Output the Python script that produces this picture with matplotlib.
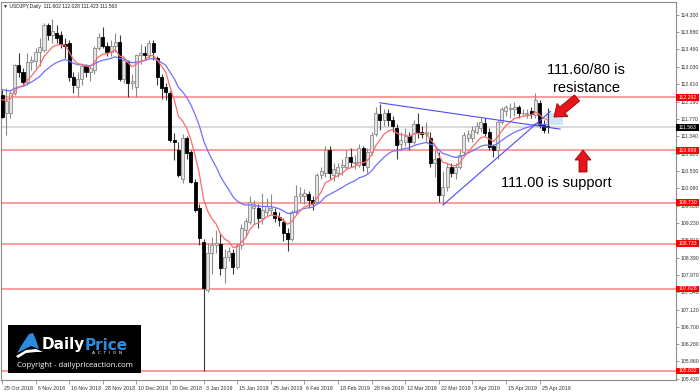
import matplotlib
matplotlib.use('Agg')
import matplotlib.pyplot as plt
from matplotlib.patches import Rectangle, Polygon
from matplotlib.transforms import ScaledTranslation
import numpy as np

# ---------------- data ----------------
opens = [112.35, 111.90, 111.90, 112.40, 113.08, 112.91, 112.67, 113.15, 113.18, 113.40,
         113.45, 114.06, 113.80, 113.85, 113.80, 113.60, 113.62, 112.79, 112.55, 112.75,
         113.05, 112.90, 112.95, 113.50, 113.76, 113.55, 113.40, 113.55, 113.65, 112.75,
         113.15, 112.65, 112.55, 113.33, 113.38, 113.33, 113.62, 113.25, 112.79, 112.55,
         112.40, 111.25, 111.00, 110.30, 111.30, 110.96, 110.23, 109.60, 108.78, 107.60,
         108.50, 108.70, 108.72, 108.14, 108.40, 108.50, 108.15, 108.70, 109.05, 109.25,
         109.60, 109.60, 109.35, 109.50, 109.55, 109.50, 109.38, 109.25, 109.00, 108.85,
         109.50, 109.88, 109.90, 109.95, 109.80, 109.75, 110.40, 110.45, 111.00, 110.40,
         110.45, 110.60, 110.60, 110.85, 110.70, 110.65, 111.05, 110.60, 110.95, 111.40,
         111.88, 111.75, 111.90, 111.75, 111.55, 111.15, 111.20, 111.35, 111.20, 111.65,
         111.45, 111.40, 111.30, 110.70, 110.82, 109.92, 110.10, 110.60, 110.45, 110.60,
         110.95, 111.30, 111.30, 111.45, 111.55, 111.66, 111.45, 111.10, 111.02, 111.70,
         111.95, 112.00, 112.00, 112.05, 111.90, 111.88, 111.95, 111.86, 112.15, 111.62,
         111.602]
highs = [112.47, 112.52, 112.45, 113.10, 113.37, 113.00, 113.37, 113.30, 113.50, 113.75,
         114.10, 114.10, 114.20, 114.05, 113.90, 113.75, 113.70, 112.90, 112.90, 113.10,
         113.10, 113.05, 113.55, 113.85, 114.00, 113.65, 113.70, 113.85, 113.80, 113.25,
         113.20, 112.85, 113.35, 113.60, 113.55, 113.70, 113.70, 113.30, 112.85, 112.65,
         112.45, 111.43, 111.20, 111.40, 111.35, 111.00, 110.30, 109.70, 108.85, 108.75,
         108.90, 109.06, 108.99, 108.60, 108.65, 108.60, 108.75, 109.20, 109.35, 109.88,
         109.80, 109.70, 109.96, 109.85, 109.95, 109.60, 109.50, 109.35, 109.10, 109.55,
         110.16, 110.10, 110.05, 110.00, 109.90, 110.45, 110.60, 111.10, 111.10, 110.70,
         110.70, 110.80, 111.00, 111.05, 110.90, 111.15, 111.10, 111.05, 111.45, 112.05,
         112.14, 112.00, 112.00, 111.85, 111.65, 111.45, 111.55, 111.45, 111.75, 111.90,
         111.60, 111.70, 111.45, 111.00, 110.95, 110.50, 110.70, 110.70, 110.70, 111.00,
         111.45, 111.50, 111.60, 111.70, 111.80, 111.80, 111.55, 111.15, 111.75, 112.05,
         112.10, 112.15, 112.17, 112.10, 112.00, 112.00, 112.05, 112.40, 112.22, 111.75,
         112.028]
lows = [111.78, 111.38, 111.80, 112.35, 112.79, 112.60, 112.60, 112.95, 113.00, 113.05,
        113.40, 113.70, 113.62, 113.62, 113.50, 113.25, 112.70, 112.40, 112.30, 112.60,
        112.80, 112.70, 112.85, 113.45, 113.50, 113.30, 113.30, 113.40, 112.70, 112.65,
        112.30, 112.50, 112.30, 113.10, 113.20, 113.25, 113.20, 112.60, 112.25, 112.23,
        111.20, 110.77, 110.35, 110.20, 110.80, 110.20, 109.50, 108.70, 105.632, 107.55,
        108.00, 108.50, 107.97, 107.77, 108.30, 107.99, 108.10, 108.60, 108.90, 109.20,
        109.20, 109.10, 109.20, 109.40, 109.45, 109.25, 109.15, 108.80, 108.55, 108.80,
        109.45, 109.75, 109.70, 109.60, 109.55, 109.70, 110.30, 110.35, 110.30, 110.25,
        110.35, 110.40, 110.55, 110.60, 110.55, 110.60, 110.50, 110.45, 110.90, 111.35,
        111.50, 111.60, 111.60, 111.45, 110.78, 111.00, 111.10, 111.00, 111.15, 111.30,
        111.30, 111.20, 110.60, 110.35, 109.75, 109.70, 110.00, 110.35, 110.30, 110.55,
        110.90, 111.20, 111.20, 111.40, 111.45, 111.35, 111.00, 110.84, 110.80, 111.65,
        111.85, 111.80, 111.85, 111.80, 111.85, 111.80, 111.78, 111.80, 111.55, 111.42,
        111.423]
closes = [111.82, 112.20, 112.40, 113.08, 112.91, 112.67, 113.15, 113.20, 113.40, 113.52,
          114.06, 113.81, 113.90, 113.75, 113.60, 113.55, 112.79, 112.59, 112.75, 113.05,
          112.90, 113.00, 113.50, 113.76, 113.55, 113.40, 113.55, 113.65, 112.75, 113.20,
          112.65, 112.70, 113.33, 113.37, 113.33, 113.62, 113.40, 112.79, 112.52, 112.42,
          111.25, 111.20, 110.40, 111.30, 110.94, 110.23, 109.55, 108.87, 107.65, 108.50,
          108.70, 108.75, 108.14, 108.41, 108.55, 108.15, 108.70, 109.12, 109.27, 109.75,
          109.65, 109.35, 109.55, 109.65, 109.60, 109.36, 109.30, 109.00, 108.85, 109.50,
          109.90, 109.95, 109.97, 109.80, 109.73, 110.40, 110.50, 111.00, 110.45, 110.55,
          110.60, 110.65, 110.85, 110.72, 110.72, 111.05, 110.65, 110.95, 111.38, 111.90,
          111.75, 111.90, 111.75, 111.60, 111.13, 111.25, 111.35, 111.20, 111.65, 111.45,
          111.40, 111.45, 110.70, 110.80, 109.92, 110.10, 110.60, 110.45, 110.60, 110.90,
          111.38, 111.40, 111.50, 111.60, 111.70, 111.42, 111.08, 111.00, 111.70, 112.00,
          112.05, 112.03, 112.05, 111.90, 111.92, 111.92, 111.88, 112.23, 111.62, 111.50,
          111.563]

date_labels = ["25 Oct 2018", "6 Nov 2018", "16 Nov 2018", "28 Nov 2018", "10 Dec 2018",
               "20 Dec 2018", "3 Jan 2019", "15 Jan 2019", "25 Jan 2019", "6 Feb 2019",
               "18 Feb 2019", "28 Feb 2019", "12 Mar 2019", "22 Mar 2019", "3 Apr 2019",
               "15 Apr 2019", "25 Apr 2019"]
label_step = 8

price_ticks = [114.300, 113.880, 113.460, 113.030, 112.610, 112.190, 111.770, 111.340,
               110.920, 110.500, 110.080, 109.650, 109.230, 108.810, 108.390, 107.970,
               107.540, 107.120, 106.700, 106.280, 105.860, 105.430]

levels = [112.292, 110.999, 109.730, 108.733, 107.628, 105.632]
last_price = 111.563

ma_fast_period, ma_fast_seed = 8, 112.35
ma_slow_period, ma_slow_seed = 21, 112.55

trend_down = [(90, 112.16), (132.9, 111.52)]
trend_up = [(105, 109.67), (130.6, 111.95)]
zone = (129.6, 133.6, 111.62, 111.91)

title = "\u25bc USDJPY,Daily  111.602 112.028 111.423 111.563"

# ---------------- figure ----------------
W, H = 700, 392
fig = plt.figure(figsize=(W / 100, H / 100), dpi=100)
fig.patch.set_facecolor('white')

ax_l, ax_r, ax_t, ax_b = 1, 676, 2, 380
ax = fig.add_axes([ax_l / W, 1 - ax_b / H, (ax_r - ax_l) / W, (ax_b - ax_t) / H])
ax.set_facecolor('white')

n = len(closes)
x = np.arange(n)
ax.set_xlim(-0.24, 160.5)
ax.set_ylim(105.408, 114.616)


def ema(vals, period, seed):
    k = 2.0 / (period + 1)
    e = seed
    out = []
    for v in vals:
        e = e + k * (v - e)
        out.append(e)
    return out


# levels
for lv in levels:
    ax.axhline(lv, color='#ff9a9a', lw=1.4, zorder=1)
ax.axhline(last_price, color='#d4d4d4', lw=1.2, zorder=1)

# candles
o = np.array(opens); h = np.array(highs); l = np.array(lows); c = np.array(closes)
up = c >= o
ax.vlines(x[up], l[up], h[up], color='#8a8a8a', lw=0.8, zorder=3)
ax.vlines(x[~up], l[~up], h[~up], color='#3a3a3a', lw=0.8, zorder=3)
bh = np.maximum(np.abs(c - o), 0.012)
ax.bar(x[up], bh[up], bottom=np.minimum(o, c)[up], width=0.72,
       color='#e4e4e4', edgecolor='#8a8a8a', lw=0.6, zorder=4)
ax.bar(x[~up], bh[~up], bottom=np.minimum(o, c)[~up], width=0.72,
       color='black', edgecolor='black', lw=0.6, zorder=4)

# moving averages
ax.plot(x, ema(closes, ma_slow_period, ma_slow_seed), color='#7070ff', lw=0.9, zorder=5)
ax.plot(x, ema(closes, ma_fast_period, ma_fast_seed), color='#ff6a6a', lw=0.9, zorder=5)

# trend lines
ax.plot([p[0] for p in trend_down], [p[1] for p in trend_down], color='#4a4aff', lw=0.8, zorder=6)
ax.plot([p[0] for p in trend_up], [p[1] for p in trend_up], color='#4a4aff', lw=0.8, zorder=6)
ax.add_patch(Rectangle((zone[0], zone[2]), zone[1] - zone[0], zone[3] - zone[2],
                       facecolor='#cfe4f5', edgecolor='none', zorder=2))

# axes styling
small = ['Liberation Sans', 'DejaVu Sans']
for s in ax.spines.values():
    s.set_color('#8c8c8c')
    s.set_linewidth(0.8)
ax.yaxis.tick_right()
ax.set_yticks(price_ticks)
ax.set_yticklabels(['%.3f' % t for t in price_ticks], family=small)
ax.tick_params(axis='y', length=2, width=0.6, pad=1.2, labelsize=3.7, colors='#8c8c8c',
               labelcolor='#303030')
ax.set_xticks(np.arange(len(date_labels)) * label_step)
ax.set_xticklabels(date_labels, ha='left', family=small)
ax.tick_params(axis='x', length=3, width=0.6, pad=1.5, labelsize=3.8, colors='#8c8c8c',
               labelcolor='#303030')
shift = ScaledTranslation(1.5 / 72, 0, fig.dpi_scale_trans)
for t in ax.get_xticklabels():
    t.set_transform(t.get_transform() + shift)

ytr = ax.get_yaxis_transform()
box_w = 23.0 / (ax_r - ax_l)
box_h = 6.5 / (ax_b - ax_t) * (114.616 - 105.408)
for lv, fc in [(v, '#ff0000') for v in levels] + [(last_price, 'black')]:
    ax.add_patch(Rectangle((1.0, lv - box_h / 2), box_w, box_h, transform=ytr,
                           facecolor=fc, edgecolor='none', clip_on=False, zorder=20))
    ax.text(1.0 + box_w / 2, lv, '%.3f' % lv, transform=ytr, fontsize=3.7, family=small,
            color='white', va='center', ha='center', clip_on=False, zorder=21)

# ---------------- overlay in pixel coordinates ----------------
ov = fig.add_axes([0, 0, 1, 1], zorder=10)
ov.set_xlim(0, W)
ov.set_ylim(H, 0)
ov.axis('off')
ov.patch.set_alpha(0)

ov.text(3, 6.5, title, fontsize=3.6, family=small, color='#202020', va='center', ha='left')

# annotation texts
ov.text(586, 70, '111.60/80 is', fontsize=10.5, family='Liberation Sans', ha='center', va='center')
ov.text(586, 88, 'resistance', fontsize=10.5, family='Liberation Sans', ha='center', va='center')
ov.text(556, 183, '111.00 is support', fontsize=10.5, family='Liberation Sans', ha='center', va='center')


def block_arrow(tip, tail, shaft_w, head_w, head_l):
    tip = np.array(tip, float); tail = np.array(tail, float)
    d = tip - tail
    L = np.hypot(*d)
    u = d / L
    p = np.array([-u[1], u[0]])
    base = tip - u * head_l
    pts = [tail + p * shaft_w / 2, base + p * shaft_w / 2, base + p * head_w / 2, tip,
           base - p * head_w / 2, base - p * shaft_w / 2, tail - p * shaft_w / 2]
    ov.add_patch(Polygon(pts, closed=True, facecolor='#e8141c', edgecolor='#9a0000', lw=0.6))


block_arrow((554, 117), (577, 98), 8, 17, 11)
block_arrow((583, 150), (583, 172), 8, 16, 10)

# logo
ov.add_patch(Rectangle((8, 325), 133, 48, facecolor='black', edgecolor='none'))
ov.add_patch(Polygon([(17, 353), (23, 343), (29, 334), (33, 333), (36, 340), (39, 349),
                      (31, 346), (23, 350)], closed=True, facecolor='#2a8be0', edgecolor='none'))
ov.add_patch(Polygon([(16, 356), (26, 350), (36, 349), (43, 352), (36, 352), (26, 353),
                      (18, 358)], closed=True, facecolor='white', edgecolor='none'))
ov.text(42, 345, 'Daily', fontsize=11, fontweight='bold', color='white', ha='left', va='center')
ov.text(85, 345, 'Price', fontsize=11, fontweight='bold', color='#2a8be0', ha='left', va='center')
ov.text(107, 353.5, 'A  C  T  I  O  N', fontsize=3.2, color='white', ha='center', va='center')
ov.text(74.5, 365.5, 'Copyright - dailypriceaction.com', fontsize=5.6, family='Open Sans',
        color='white', ha='center', va='center')

fig.savefig('out.png', dpi=100, facecolor='white')
